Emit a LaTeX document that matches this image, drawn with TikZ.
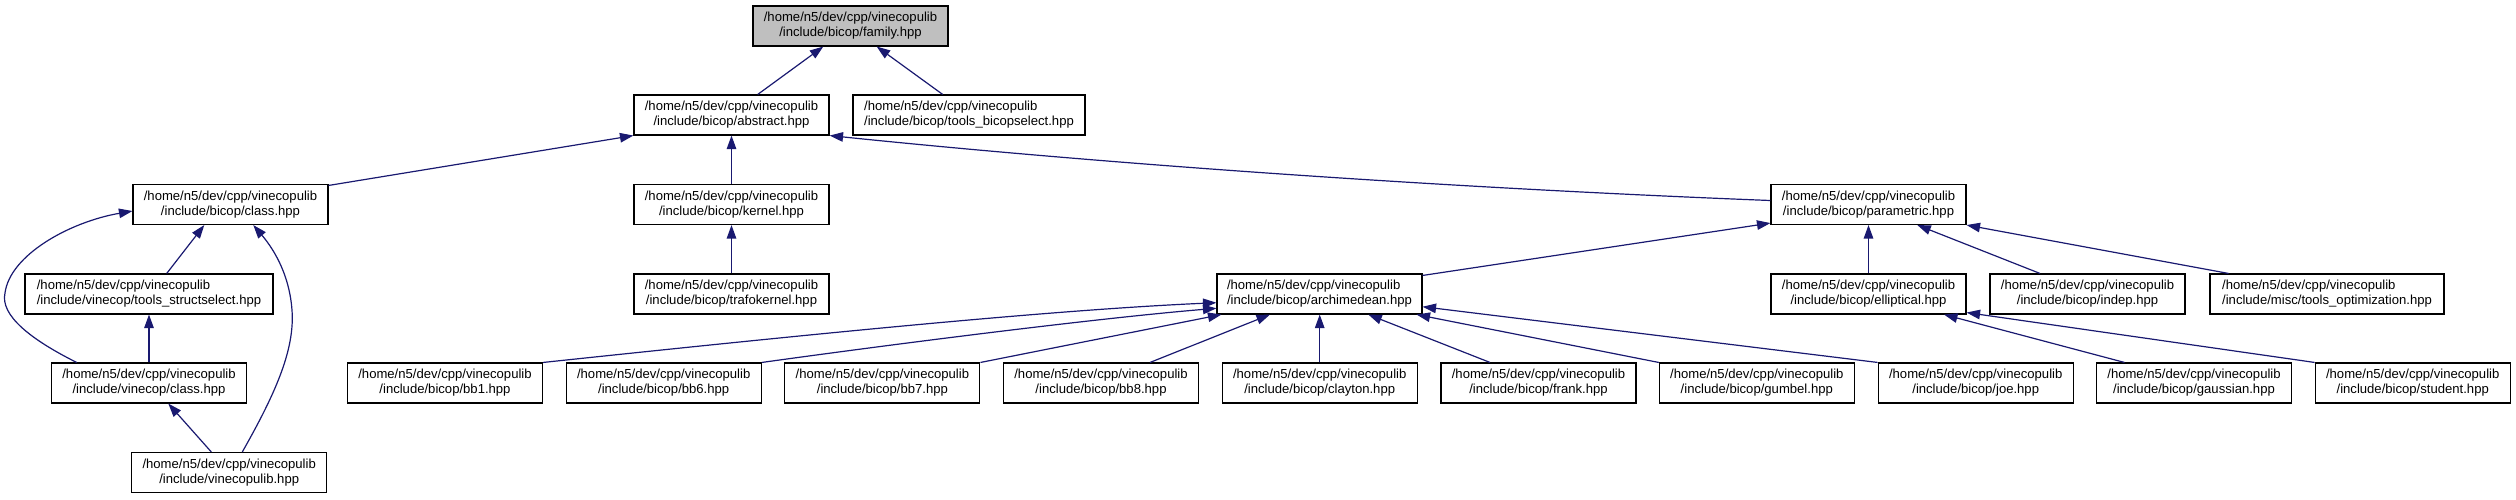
\documentclass[tikz,border=0pt]{standalone}
\usepackage{fontspec}
\setmainfont{Liberation Sans}
\usetikzlibrary{arrows.meta}
\definecolor{edgeblue}{HTML}{191970}
\definecolor{rootgray}{HTML}{BFBFBF}
\tikzset{
  file/.style={draw=black, line width=1.1pt, fill=white, minimum width=195pt,
    minimum height=40pt, inner sep=0pt, align=center,
    font=\fontsize{13.1}{15}\selectfont},
  leftfile/.style={file, align=left},
  rootfile/.style={file, fill=rootgray},
  dep/.style={draw=edgeblue, line width=1.2pt, -{Triangle[length=13.5pt,width=9.5pt]}}
}
\begin{document}
\begin{tikzpicture}[x=1pt,y=-1pt]
\useasboundingbox (0,0) rectangle (2516,499);
% row 0
\node[rootfile] (family) at (850.5,26) {/home/n5/dev/cpp/vinecopulib\\/include/bicop/family.hpp};
% row 1
\node[file] (abstract) at (731.5,115) {/home/n5/dev/cpp/vinecopulib\\/include/bicop/abstract.hpp};
\node[leftfile, minimum width=232pt] (bicopselect) at (969,115) {/home/n5/dev/cpp/vinecopulib\\/include/bicop/tools\_bicopselect.hpp};
% row 2
\node[file] (bclass) at (230.5,204.5) {/home/n5/dev/cpp/vinecopulib\\/include/bicop/class.hpp};
\node[file] (kernel) at (731.5,204.5) {/home/n5/dev/cpp/vinecopulib\\/include/bicop/kernel.hpp};
\node[file] (parametric) at (1868.5,204.5) {/home/n5/dev/cpp/vinecopulib\\/include/bicop/parametric.hpp};
% row 3
\node[leftfile, minimum width=248pt] (structsel) at (149,294) {/home/n5/dev/cpp/vinecopulib\\/include/vinecop/tools\_structselect.hpp};
\node[file] (trafo) at (731.5,294) {/home/n5/dev/cpp/vinecopulib\\/include/bicop/trafokernel.hpp};
\node[leftfile, minimum width=205pt] (arch) at (1319.5,294) {/home/n5/dev/cpp/vinecopulib\\/include/bicop/archimedean.hpp};
\node[file] (ellip) at (1868.5,294) {/home/n5/dev/cpp/vinecopulib\\/include/bicop/elliptical.hpp};
\node[file] (indep) at (2087.5,294) {/home/n5/dev/cpp/vinecopulib\\/include/bicop/indep.hpp};
\node[leftfile, minimum width=234pt] (toolsopt) at (2327,294) {/home/n5/dev/cpp/vinecopulib\\/include/misc/tools\_optimization.hpp};
% row 4
\node[file] (vclass) at (149,383) {/home/n5/dev/cpp/vinecopulib\\/include/vinecop/class.hpp};
\node[file] (bb1) at (445,383) {/home/n5/dev/cpp/vinecopulib\\/include/bicop/bb1.hpp};
\node[file] (bb6) at (663.7,383) {/home/n5/dev/cpp/vinecopulib\\/include/bicop/bb6.hpp};
\node[file] (bb7) at (882.4,383) {/home/n5/dev/cpp/vinecopulib\\/include/bicop/bb7.hpp};
\node[file] (bb8) at (1101,383) {/home/n5/dev/cpp/vinecopulib\\/include/bicop/bb8.hpp};
\node[file] (clayton) at (1319.7,383) {/home/n5/dev/cpp/vinecopulib\\/include/bicop/clayton.hpp};
\node[file] (frank) at (1538.5,383) {/home/n5/dev/cpp/vinecopulib\\/include/bicop/frank.hpp};
\node[file] (gumbel) at (1756.8,383) {/home/n5/dev/cpp/vinecopulib\\/include/bicop/gumbel.hpp};
\node[file] (joe) at (1975.7,383) {/home/n5/dev/cpp/vinecopulib\\/include/bicop/joe.hpp};
\node[file] (gaussian) at (2194,383) {/home/n5/dev/cpp/vinecopulib\\/include/bicop/gaussian.hpp};
\node[file] (student) at (2412.7,383) {/home/n5/dev/cpp/vinecopulib\\/include/bicop/student.hpp};
% row 5
\node[file] (vlib) at (229.2,472.5) {/home/n5/dev/cpp/vinecopulib\\/include/vinecopulib.hpp};
% helper coordinates for curved connectors
\coordinate (cv1) at (5,293);
\coordinate (cv2) at (292,310);
% connectors
\draw[dep] ([xshift=26.2pt]abstract.north) -- ([xshift=-27.2pt]family.south);
\draw[dep] ([xshift=-26.3pt]bicopselect.north) -- ([xshift=26.2pt]family.south);
\draw[dep] ([yshift=-1.5pt]bclass.north east) -- (abstract.south west);
\draw[dep] (kernel.north) -- (abstract.south);
\draw[dep] ([yshift=4pt]parametric.west) .. controls +(-300,-11.7) and +(300,30.9) .. (abstract.south east);
\draw[dep] (trafo.north) -- (kernel.south);
\draw[dep] ([xshift=17.7pt]structsel.north) -- ([xshift=-26.2pt]bclass.south);
\draw[dep] ([xshift=-72.3pt]vclass.north) .. controls +(-46.7,-23.3) and +(-5,22) .. (cv1)
  .. controls +(5,-38) and +(-63,11) .. ([yshift=-6.5pt]bclass.west);
\draw[dep] (vclass.north) -- (vclass.north |- structsel.south);
\draw[dep] ([xshift=-17.9pt]vlib.north) -- ([xshift=19.3pt]vclass.south);
\draw[dep] ([xshift=13.1pt]vlib.north) .. controls +(32.7,-57.7) and +(3,40) .. (cv2)
  .. controls +(-3,-40) and +(16.7,19.7) .. ([xshift=22.8pt]bclass.south);
\draw[dep] ([yshift=-2pt]arch.north east) -- ([yshift=2pt]parametric.south west);
\draw[dep] (ellip.north) -- (parametric.south);
\draw[dep] ([xshift=-47.5pt]indep.north) -- ([xshift=48.8pt]parametric.south);
\draw[dep] ([xshift=-98.4pt]toolsopt.north) -- (parametric.south east);
\draw[dep] (bb1.north east) .. controls +(257.7,-27.3) and +(-167,7.3) .. ([yshift=-8.7pt]arch.west);
\draw[dep] (bb6.north east) .. controls +(139,-19.3) and +(-117,9.7) .. ([yshift=-14.3pt]arch.west);
\draw[dep] (bb7.north east) -- ([xshift=5pt]arch.south west);
\draw[dep] ([xshift=49pt]bb8.north) -- ([xshift=-49.5pt]arch.south);
\draw[dep] (clayton.north) -- (clayton.north |- arch.south);
\draw[dep] ([xshift=-48.5pt]frank.north) -- ([xshift=48.8pt]arch.south);
\draw[dep] (gumbel.north west) -- ([xshift=-6pt]arch.south east);
\draw[dep] (joe.north west) -- ([yshift=-12.7pt]arch.east);
\draw[dep] ([xshift=-69.5pt]gaussian.north) -- ([xshift=75.5pt]ellip.south);
\draw[dep] (student.north west) -- ([yshift=2pt]ellip.south east);
\end{tikzpicture}
\end{document}
